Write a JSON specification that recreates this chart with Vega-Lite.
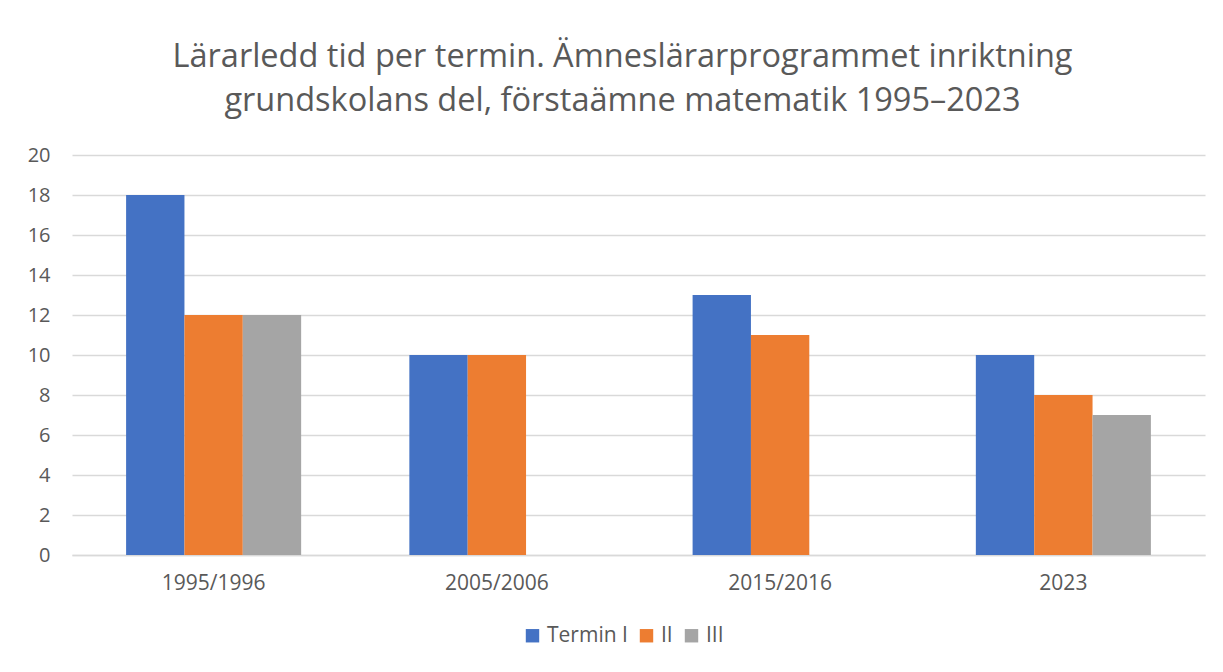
{
  "$schema": "https://vega.github.io/schema/vega-lite/v6.json",
  "autosize": {"type": "none"},
  "width": 1133,
  "height": 400,
  "padding": {"left": 72, "top": 155, "right": 18, "bottom": 117},
  "background": "white",
  "title": {
    "text": ["Lärarledd tid per termin. Ämneslärarprogrammet inriktning", "grundskolans del, förstaämne matematik 1995–2023"],
    "fontSize": 32.5,
    "font": "Open Sans",
    "fontWeight": "normal",
    "color": "#595959",
    "lineHeight": 44,
    "anchor": "middle",
    "dx": -16,
    "offset": 28
  },
  "data": {
    "values": [
      {"period": "1995/1996", "termin": "Termin I", "value": 18},
      {"period": "1995/1996", "termin": "II", "value": 12},
      {"period": "1995/1996", "termin": "III", "value": 12},
      {"period": "2005/2006", "termin": "Termin I", "value": 10},
      {"period": "2005/2006", "termin": "II", "value": 10},
      {"period": "2015/2016", "termin": "Termin I", "value": 13},
      {"period": "2015/2016", "termin": "II", "value": 11},
      {"period": "2023", "termin": "Termin I", "value": 10},
      {"period": "2023", "termin": "II", "value": 8},
      {"period": "2023", "termin": "III", "value": 7}
    ]
  },
  "mark": {"type": "bar"},
  "encoding": {
    "x": {
      "field": "period", "type": "nominal", "sort": null, "title": null,
      "scale": {"paddingInner": 0.382, "paddingOuter": 0.191},
      "axis": {"labelAngle": 0, "labelFontSize": 21, "labelFont": "Open Sans", "labelColor": "#595959", "labelPadding": 17, "ticks": false, "domainColor": "#d9d9d9", "domainWidth": 1.3}
    },
    "xOffset": {"field": "termin", "type": "nominal", "sort": ["Termin I", "II", "III"], "scale": {"paddingInner": 0, "paddingOuter": 0}},
    "y": {
      "field": "value", "type": "quantitative", "title": null,
      "scale": {"domain": [0, 20], "nice": false},
      "axis": {"values": [0, 2, 4, 6, 8, 10, 12, 14, 16, 18, 20], "labelFontSize": 20, "labelFont": "Open Sans", "labelColor": "#595959", "labelPadding": 22, "ticks": false, "domain": false, "gridColor": "#d9d9d9", "gridWidth": 1.3}
    },
    "color": {
      "field": "termin", "type": "nominal", "sort": ["Termin I", "II", "III"],
      "scale": {"domain": ["Termin I", "II", "III"], "range": ["#4472C4", "#ED7D31", "#A5A5A5"]},
      "legend": {
        "title": null, "orient": "none", "direction": "horizontal",
        "legendX": 450, "legendY": 470,
        "symbolType": "square", "symbolSize": 180, "symbolStrokeWidth": 0, "symbolOpacity": 1,
        "labelFontSize": 21, "labelFont": "Open Sans", "labelColor": "#595959",
        "columnPadding": 8, "labelOffset": 4
      }
    }
  },
  "config": {"view": {"stroke": null}}
}
